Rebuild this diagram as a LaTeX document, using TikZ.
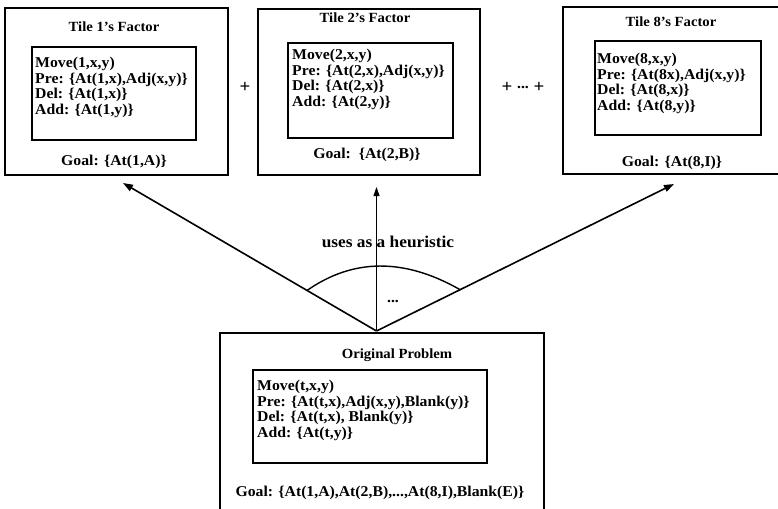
\documentclass[tikz,border=0pt]{standalone}
\usepackage{fontspec}
\setmainfont{Liberation Serif}[FakeStretch=1.05]
\usetikzlibrary{arrows.meta,calc}
\begin{document}
\begin{tikzpicture}[x=1pt,y=-1pt,
  outerbox/.style={draw, line width=1.1pt, inner sep=0pt},
  innerbox/.style={draw, line width=1.1pt, inner sep=0pt},
  body/.style={inner sep=0pt, anchor=north west, align=left, font=\rmfamily\bfseries\fontsize{15}{15.5}\selectfont},
  ttl/.style={inner sep=0pt, font=\rmfamily\bfseries\fontsize{14}{14}\selectfont},
  goal/.style={inner sep=0pt, font=\rmfamily\bfseries\fontsize{15}{15}\selectfont},
  plus/.style={inner sep=0pt, font=\rmfamily\bfseries\fontsize{18}{18}\selectfont},
  lbl/.style={inner sep=0pt, font=\rmfamily\bfseries\fontsize{16.5}{16.5}\selectfont},
  arr/.style={line width=1.6pt, -{Triangle[length=10pt,width=7pt]}},
  arrthin/.style={line width=0.9pt, -{Triangle[length=9pt,width=6pt]}},
]
\useasboundingbox (0,0) rectangle (778,508);

% Tile 1
\node[outerbox, minimum width=223pt, minimum height=167pt] (t1) at (116.5,91.5) {};
\node[innerbox, minimum width=164pt, minimum height=93pt] (t1in) at (114,93.5) {};
\node[ttl] (t1ttl) at (114,27) {Tile 1's Factor};
\node[body] (t1txt) at (35,57) {Move(1,x,y)\\Pre: \{At(1,x),Adj(x,y)\}\\Del: \{At(1,x)\}\\Add: \{At(1,y)\}};
\node[goal] (t1goal) at (114,162) {Goal: \{At(1,A)\}};

% Tile 2
\node[outerbox, minimum width=222pt, minimum height=166pt] (t2) at (369,92) {};
\node[innerbox, minimum width=165pt, minimum height=95pt] (t2in) at (370.5,90.5) {};
\node[ttl] (t2ttl) at (365,18) {Tile 2's Factor};
\node[body] (t2txt) at (292,49) {Move(2,x,y)\\Pre: \{At(2,x),Adj(x,y)\}\\Del: \{At(2,x)\}\\Add: \{At(2,y)\}};
\node[goal] (t2goal) at (367,155) {Goal:\ \ \{At(2,B)\}};

% Tile 8
\node[outerbox, minimum width=227pt, minimum height=167pt] (t8) at (676.5,90.5) {};
\node[innerbox, minimum width=166pt, minimum height=94pt] (t8in) at (678,88) {};
\node[ttl] (t8ttl) at (671,22) {Tile 8's Factor};
\node[body] (t8txt) at (597,53) {Move(8,x,y)\\Pre: \{At(8x),Adj(x,y)\}\\Del: \{At(8,x)\}\\Add: \{At(8,y)\}};
\node[goal] (t8goal) at (672,163) {Goal: \{At(8,I)\}};

% plus signs
\node[plus] (p1) at (245,87) {+};
\node[plus] (p2) at (523,87) {+ \raisebox{0.2em}{\fontsize{15}{15}\selectfont ...} +};

% Original problem
\node[outerbox, minimum width=324pt, minimum height=182pt] (orig) at (382,424) {};
\node[innerbox, minimum width=234pt, minimum height=93pt] (origin) at (370,416.5) {};
\node[ttl] (origttl) at (397,355) {Original Problem};
\node[body] (origtxt) at (257,380) {Move(t,x,y)\\Pre: \{At(t,x),Adj(x,y),Blank(y)\}\\Del: \{At(t,x), Blank(y)\}\\Add: \{At(t,y)\}};
\node[goal] (origgoal) at (380,493) {Goal: \{At(1,A),At(2,B),...,At(8,I),Blank(E)\}};

% arrows
\coordinate (apex) at (376.5,331);
\coordinate (tipL) at (123,183);
\coordinate (tipM) at (376.5,187);
\coordinate (tipR) at (674,184);
\draw[arr] (apex) -- (tipL);
\draw[arr] (apex) -- (tipR);
\draw[arrthin] (apex) -- (tipM);

% arc
\coordinate (arcL) at ($(apex)!0.274!(tipL)$);
\coordinate (arcR) at ($(apex)!0.281!(tipR)$);
\coordinate (ctl) at (376.5,242);
\draw[line width=1.4pt] (arcL) .. controls ($(arcL)!0.6667!(ctl)$) and ($(arcR)!0.6667!(ctl)$) .. (arcR);

\node[lbl] (uses) at (388,242) {uses as a heuristic};
\node[goal] (dots) at (393,301) {...};
\end{tikzpicture}
\end{document}
